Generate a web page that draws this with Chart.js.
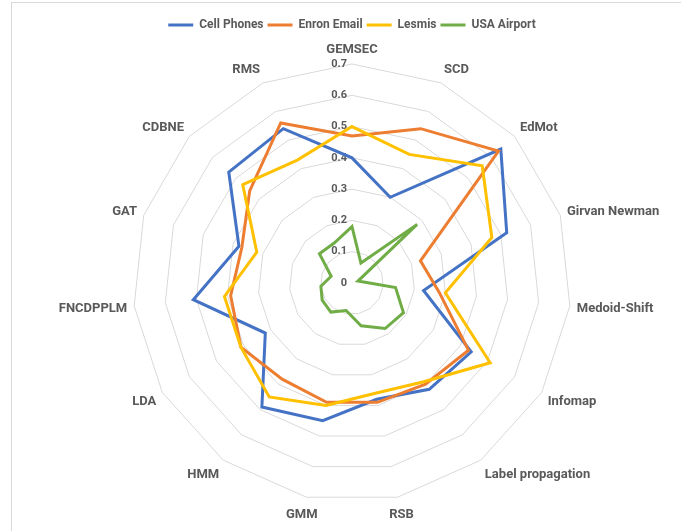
<!DOCTYPE html>
<html>
<head>
<meta charset="utf-8">
<script src="https://cdn.jsdelivr.net/npm/chart.js@4.4.1/dist/chart.umd.min.js"></script>
<style>
  html, body { margin: 0; padding: 0; background: #fff; }
  #wrap { position: relative; width: 681px; height: 531px; overflow: hidden; }
  #frame { position: absolute; left: 11px; top: 2px; width: 700px; height: 560px;
           border-left: 1px solid #d9d9d9; border-top: 1px solid #d9d9d9; }
  canvas { position: absolute; left: 0; top: 0; }
</style>
</head>
<body>
<div id="wrap">
  <div id="frame"></div>
  <canvas id="radarChart" width="681" height="531"></canvas>
</div>
<script>
const categories = ['GEMSEC', 'SCD', 'EdMot', 'Girvan Newman', 'Medoid-Shift', 'Infomap',
  'Label propagation', 'RSB', 'GMM', 'HMM', 'LDA', 'FNCDPPLM', 'GAT', 'CDBNE', 'RMS'];
const cellPhones = [0.40, 0.30, 0.64, 0.52, 0.23, 0.44, 0.42, 0.38, 0.45, 0.49, 0.32, 0.51, 0.38, 0.53, 0.54];
const enronEmail = [0.47, 0.54, 0.63, 0.23, 0.28, 0.43, 0.40, 0.39, 0.39, 0.38, 0.41, 0.39, 0.37, 0.44, 0.56];
const lesmis     = [0.50, 0.45, 0.56, 0.47, 0.30, 0.51, 0.39, 0.36, 0.40, 0.45, 0.41, 0.41, 0.32, 0.47, 0.43];
const usaAirport = [0.18, 0.07, 0.28, 0.02, 0.14, 0.19, 0.18, 0.14, 0.09, 0.115, 0.11, 0.10, 0.07, 0.14, 0.14];

const textColor = '#595959';
const labelPad = 7;

// Excel-style labels: tick values left of the vertical axis, category names around the rim
const excelLabels = {
  id: 'excelLabels',
  beforeDatasetsDraw(chart) {
    const scale = chart.scales.r;
    const ctx = chart.ctx;
    ctx.save();
    ctx.fillStyle = textColor;
    ctx.font = 'bold 11px Roboto';
    ctx.textAlign = 'right';
    ctx.textBaseline = 'middle';
    scale.ticks.forEach(t => {
      const d = scale.getDistanceFromCenterForValue(t.value);
      ctx.fillText(t.label, scale.xCenter - 5, scale.yCenter - d);
    });
    ctx.restore();
  },
  afterDraw(chart) {
    const scale = chart.scales.r;
    const ctx = chart.ctx;
    ctx.save();
    ctx.fillStyle = textColor;
    ctx.font = 'bold 13px Roboto';
    ctx.textBaseline = 'middle';
    categories.forEach((name, i) => {
      const p = scale.getPointPosition(i, scale.drawingArea);
      const a = scale.getIndexAngle(i);
      const s = Math.sin(a), c = Math.cos(a);
      const w = ctx.measureText(name).width;
      let x;
      if (Math.abs(s) > 0.3) {
        ctx.textAlign = s > 0 ? 'left' : 'right';
        x = p.x + labelPad * s;
      } else {
        ctx.textAlign = 'center';
        x = p.x + (labelPad + w / 2) * s;
      }
      const y = p.y - c * 16 + 1.5;
      ctx.fillText(name, x, y);
    });
    ctx.restore();
  }
};

const ctx = document.getElementById('radarChart').getContext('2d');
new Chart(ctx, {
  type: 'radar',
  data: {
    labels: categories,
    datasets: [
      { label: 'Cell Phones', data: cellPhones, borderColor: '#4472C4', order: 4 },
      { label: 'Enron Email', data: enronEmail, borderColor: '#ED7D31', order: 3 },
      { label: 'Lesmis', data: lesmis, borderColor: '#FFC000', order: 2 },
      { label: 'USA Airport', data: usaAirport, borderColor: '#70AD47', order: 1 }
    ]
  },
  options: {
    responsive: false,
    animation: false,
    layout: { padding: { top: 15, bottom: 6, left: 133, right: 110 } },
    elements: {
      line: { borderWidth: 3, tension: 0, fill: false },
      point: { radius: 0, hoverRadius: 0, borderWidth: 3 }
    },
    scales: {
      r: {
        min: 0,
        max: 0.7,
        ticks: { stepSize: 0.1, display: false },
        grid: { color: '#d9d9d9', lineWidth: 1 },
        angleLines: { display: false },
        pointLabels: { display: false }
      }
    },
    plugins: {
      legend: {
        position: 'top',
        labels: {
          usePointStyle: true,
          pointStyle: 'line',
          pointStyleWidth: 25,
          padding: 4,
          color: textColor,
          font: { family: 'Roboto', size: 12, weight: 'bold' },
          sort: (a, b) => a.datasetIndex - b.datasetIndex
        }
      },
      tooltip: { enabled: false }
    }
  },
  plugins: [excelLabels]
});
</script>
</body>
</html>
